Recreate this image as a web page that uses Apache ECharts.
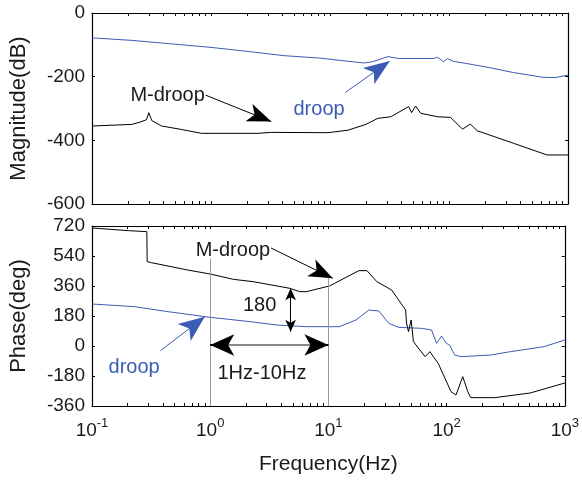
<!DOCTYPE html>
<html><head><meta charset="utf-8">
<script src="https://cdn.jsdelivr.net/npm/echarts@6/dist/echarts.min.js"></script>
<style>html,body{margin:0;padding:0;background:#fff}#c{width:582px;height:485px}</style>
</head><body><div id="c"></div>
<script>
// ---- data (frequency in Hz) ----
const magFreqBlue = [0.1,0.216,0.467,1.0,2.18,4.12,8.41,13.6,19.3,22.9,30.6,37.8,74.1,80.1,90.0,97.1,109,137,222,347,618,778,1000];
const magBlue = [-78,-86,-97,-108,-122,-134,-142,-151,-157,-153,-137,-143,-143,-139,-153,-143,-152,-158,-172,-187,-202,-203,-195];
const magFreqBlack = [0.1,0.216,0.252,0.288,0.300,0.318,0.385,0.567,0.833,2.49,3.21,9.62,14.2,20.0,25.2,32.4,45.8,48.5,52.4,57.8,80.1,103,130,151,173,347,667,1000];
const magBlack = [-355,-350,-343,-335,-313,-338,-355,-366,-378,-378,-375,-376,-368,-350,-331,-326,-294,-313,-292,-315,-326,-328,-365,-349,-370,-409,-446,-446];
const phFreqBlack = [0.1,0.204,0.291,0.293,0.318,0.644,1.0,1.57,2.31,4.72,5.71,6.50,10.2,18.1,21.2,25.7,34.3,45.0,45.8,47.6,50.1,52.4,65.7,72.3,77.1,84.9,109,120,137,151,160,255,509,1000];
const phBlack = [708,692,686,506,500,456,432,400,386,346,326,326,360,452,452,386,336,216,138,86,156,26,-64,-34,-64,-104,-274,-294,-184,-274,-310,-310,-282,-222];
const phFreqBlue = [0.1,0.229,0.439,1.0,2.18,3.65,6.50,12.4,17.1,22.0,26.7,32.4,39.3,61.5,74.6,82.2,90.6,99.6,106,117,133,236,347,667,1000];
const phBlue = [252,236,206,172,146,126,116,116,156,216,210,136,112,106,96,16,60,16,6,-54,-64,-54,-34,-4,36];

const xMajorTicks = [0.1,1,10,100,1000];
const magTicks = {min:-600, max:0, interval:200};
const phTicks = {min:-360, max:720, interval:180};

// annotation anchors (data space: [Hz, value])
const magLabelMDroop = [0.432,-258];
const magArrowMDroop = [[0.90,-258],[3.21,-341]];
const magLabelDroop = [8.09,-302];
const magArrowDroop = [[13.4,-250],[31.8,-151]];
const phLabelMDroop = [1.556,576];
const phArrowMDroop = [[3.27,588],[10.9,406]];
const phLabel180 = [2.62,243];
const phArrow180 = [[4.79,346],[4.79,86]];
const phBandArrow = [[1,6],[10,6]];
const phLabelBand = [2.74,-162];
const phLabelDroop = [0.227,-126];
const phArrowDroop = [[0.380,-28],[0.900,176]];
const phVLines = [[[1,526],[1,-360]],[[10,408],[10,-360]]];

// ---- build ----
const FONT = "'Liberation Sans', Arial, sans-serif";
const BLUE = '#3b5bb5';
const minorTicks = [];
for (let n=-1;n<3;n++) for (let k=1;k<10;k++) minorTicks.push(+(k*Math.pow(10,n)).toPrecision(6));
minorTicks.push(1000);

function pairs(xs, ys){ return xs.map((x,i)=>[x, ys[i]]); }

function xAx(grid, pos, showLabel){
  return {
    type:'log', logBase:10, gridIndex:grid, position:pos, min:0.1, max:1000,
    axisLine:{show:true, onZero:false, lineStyle:{color:'#000', width:1.2}},
    axisTick:{show:true, inside:true, length:3, customValues:minorTicks, lineStyle:{color:'#000', width:1}},
    splitLine:{show:false}, minorTick:{show:false},
    axisLabel: showLabel ? {
      show:true, customValues:xMajorTicks, margin:11,
      formatter: v => '{b|10}{s|' + Math.round(Math.log10(v)) + '}',
      rich:{ b:{fontSize:19, fontFamily:FONT, color:'#1a1a1a'}, s:{fontSize:13, fontFamily:FONT, color:'#1a1a1a', padding:[0,0,14,0]} }
    } : {show:false},
    name: showLabel ? 'Frequency(Hz)' : '', nameLocation:'middle', nameGap:48,
    nameTextStyle:{fontSize:21, fontFamily:FONT, color:'#1a1a1a'}
  };
}
function yAx(grid, pos, t, name){
  return {
    type:'value', gridIndex:grid, position:pos, min:t.min, max:t.max, interval:t.interval,
    axisLine:{show:true, onZero:false, lineStyle:{color:'#000', width:1.2}},
    axisTick:{show:true, inside:true, length:3, lineStyle:{color:'#000'}},
    splitLine:{show:false},
    axisLabel: name ? {show:true, margin:7, fontSize:19, fontFamily:FONT, color:'#1a1a1a'} : {show:false},
    name: name || '', nameLocation:'middle', nameGap:62, nameRotate:90,
    nameTextStyle:{fontSize:22, fontFamily:FONT, color:'#1a1a1a'}
  };
}
function arrowLine(a, b, color, width, endSize, startSize){
  return [
    {coord:a, symbol: startSize ? 'arrow' : 'none', symbolSize: startSize || 1, lineStyle:{color, width, type:'solid'}},
    {coord:b, symbol: endSize ? 'arrow' : 'none', symbolSize: endSize || 1, lineStyle:{color, width, type:'solid'}}
  ];
}
function textPt(c, text, color){
  return {coord:c, symbol:'circle', symbolSize:1, itemStyle:{color:'rgba(0,0,0,0)'},
    label:{show:true, position:'inside', formatter:text, color, fontSize:20, fontFamily:FONT}};
}

const option = {
  animation:false,
  backgroundColor:'#fff',
  grid:[
    {left:90, top:13, width:478, height:191},
    {left:90, top:226, width:478, height:180}
  ],
  xAxis:[xAx(0,'bottom',false), xAx(0,'top',false), xAx(1,'bottom',true), xAx(1,'top',false)],
  yAxis:[yAx(0,'left',magTicks,'Magnitude(dB)'), yAx(0,'right',magTicks,null), yAx(1,'left',phTicks,'Phase(deg)'), yAx(1,'right',phTicks,null)],
  series:[
    {type:'line', xAxisIndex:0, yAxisIndex:0, data:pairs(magFreqBlue, magBlue), showSymbol:false, symbol:'none',
      lineStyle:{color:BLUE, width:1}, itemStyle:{color:BLUE}},
    {type:'line', xAxisIndex:0, yAxisIndex:0, data:pairs(magFreqBlack, magBlack), showSymbol:false, symbol:'none',
      lineStyle:{color:'#000', width:1}, itemStyle:{color:'#000'},
      markLine:{silent:true, animation:false, label:{show:false}, emphasis:{disabled:true},
        data:[arrowLine(magArrowMDroop[0], magArrowMDroop[1], '#000', 1, [14,24]),
              arrowLine(magArrowDroop[0], magArrowDroop[1], BLUE, 1, [15,26])]},
      markPoint:{silent:true, animation:false,
        data:[textPt(magLabelMDroop,'M-droop','#1a1a1a'), textPt(magLabelDroop,'droop',BLUE)]}
    },
    {type:'line', xAxisIndex:2, yAxisIndex:2, data:pairs(phFreqBlue, phBlue), showSymbol:false, symbol:'none',
      lineStyle:{color:BLUE, width:1}, itemStyle:{color:BLUE}},
    {type:'line', xAxisIndex:2, yAxisIndex:2, data:pairs(phFreqBlack, phBlack), showSymbol:false, symbol:'none',
      lineStyle:{color:'#000', width:1}, itemStyle:{color:'#000'},
      markLine:{silent:true, animation:false, label:{show:false}, emphasis:{disabled:true},
        data:[
          arrowLine(phVLines[0][0], phVLines[0][1], '#999', 1),
          arrowLine(phVLines[1][0], phVLines[1][1], '#999', 1),
          arrowLine(phBandArrow[0], phBandArrow[1], '#888', 2),
          arrowLine([1.2, phBandArrow[0][1]], phBandArrow[0], '#000', 2, [16,24]),
          arrowLine([8.3, phBandArrow[1][1]], phBandArrow[1], '#000', 2, [16,24]),
          arrowLine(phArrow180[0], phArrow180[1], '#000', 1, [8,12], [8,12]),
          arrowLine(phArrowMDroop[0], phArrowMDroop[1], '#000', 1, [14,24]),
          arrowLine(phArrowDroop[0], phArrowDroop[1], BLUE, 1, [16,26])
        ]},
      markPoint:{silent:true, animation:false,
        data:[textPt(phLabelMDroop,'M-droop','#1a1a1a'), textPt(phLabel180,'180','#1a1a1a'),
              textPt(phLabelBand,'1Hz-10Hz','#1a1a1a'), textPt(phLabelDroop,'droop',BLUE)]}
    }
  ]
};
const chart = echarts.init(document.getElementById('c'), null, {renderer:'canvas'});
chart.setOption(option);
</script>
</body></html>
